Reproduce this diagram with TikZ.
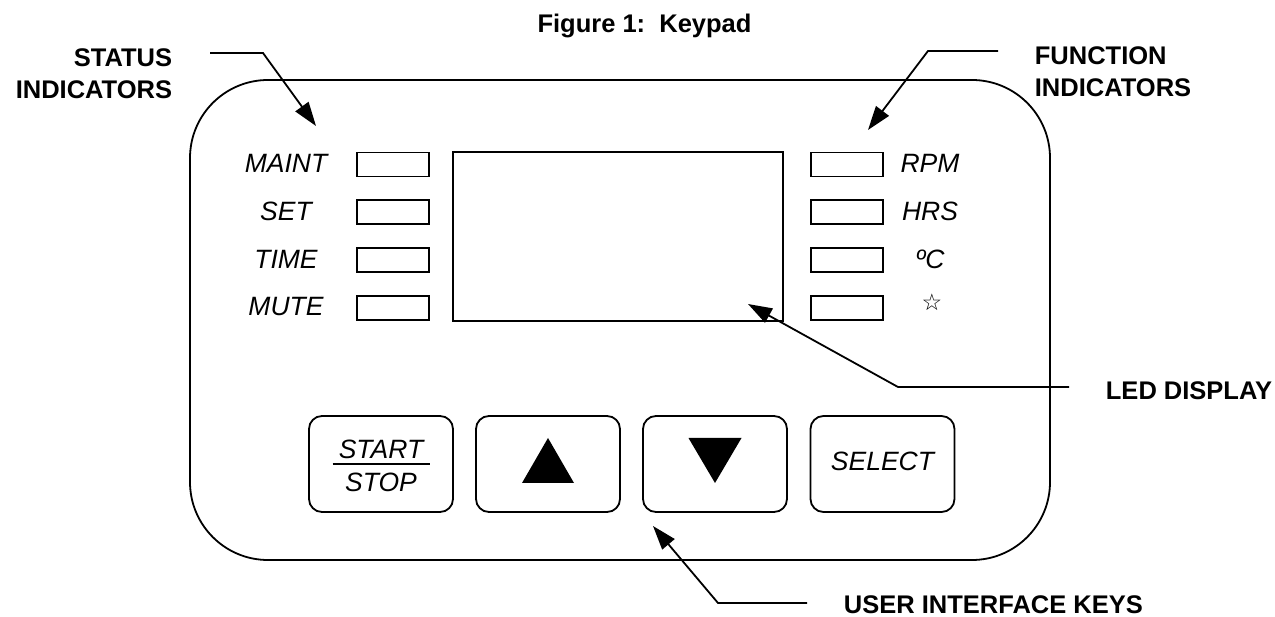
\documentclass[tikz,border=0pt]{standalone}
\usepackage{fontspec}
\setmainfont{Liberation Sans}
\newfontfamily\symfont{DejaVu Sans}
\usetikzlibrary{arrows.meta,positioning}
\tikzset{
    lampBox/.style={
        ,   draw
        ,   minimum width=72pt
        ,   minimum height=24pt
        ,   inner sep=0pt
    },
    keyBox/.style={
        ,   draw
        ,   rounded corners=13pt
        ,   minimum width=144pt
        ,   minimum height=96pt
        ,   inner sep=0pt
    },
    panelText/.style={
        ,   font=\fontsize{26.5}{30}\selectfont\itshape
        ,   inner sep=0pt
    },
    calloutText/.style={
        ,   font=\fontsize{25.5}{32}\selectfont\bfseries
        ,   inner sep=0pt
    },
    calloutLine/.style={
        ,   line width=1.8pt
        ,   -{Triangle[length=24pt,width=16pt]}
    }
}

\begin{document}
\begin{tikzpicture}[x=1pt, y=-1pt, line width=1.8pt]
	\useasboundingbox (0,0) rectangle (1275,617);
	\node[calloutText, anchor=base] (title) at (644.5,33) {Figure 1:~~Keypad};
	
	% housing and display
	\node[draw, rounded corners=78pt, minimum width=860pt, minimum height=480pt] (panel) at (620,320) {};
	\node[draw, minimum width=330pt, minimum height=169pt] (led) at (618,236.5) {};
	
	% status indicators, left
	\foreach \lbl [count=\i] in {MAINT,SET,TIME,MUTE}{
		\node[lampBox] (st\i) at (393,{164.5+47.8*(\i-1)}) {};
		\node[panelText, anchor=base] (stl\i) at (286,{172.5+47.8*(\i-1)}) {\lbl};
	}
	% function indicators, right
	\foreach \lbl [count=\i] in {RPM,HRS,ºC}{
		\node[lampBox] (fn\i) at (847,{164.5+47.8*(\i-1)}) {};
		\node[panelText, anchor=base] (fnl\i) at (930,{172.5+47.8*(\i-1)}) {\lbl};
	}
	\node[lampBox] (fn4) at (847,308) {};
	\node[inner sep=0pt, font=\symfont\fontsize{23}{23}\selectfont] (fnl4) at (932,302) {☆};
	
	% keys
	\node[keyBox] (kStart) at (381,464) {};
	\node[keyBox, right=21.2pt of kStart] (kUp) {};
	\node[keyBox, right=21.2pt of kUp] (kDown) {};
	\node[keyBox, right=21.7pt of kDown] (kSelect) {};
	
	\node[panelText, anchor=base] (startTxt) at (381,459) {START};
	\node[panelText, anchor=base] (stopTxt) at (381,491) {STOP};
	\draw[line width=1.5pt] ([xshift=-48.5pt]kStart.center) -- ([xshift=48.5pt]kStart.center);
	\fill[shift={(kUp.center)}] (0,-26) -- (26,19) -- (-26,19) -- cycle;
	\fill[shift={(kDown.center)}] (-26.5,-26) -- (26.5,-26) -- (0,19) -- cycle;
	\node[panelText, anchor=base] (selTxt) at (kSelect.center |- 0,471) {SELECT};
	
	% callouts
	\node[calloutText, align=right, anchor=east] (statusLbl) at (173,74) {STATUS\\INDICATORS};
	\coordinate (statusA) at (210,53);
	\coordinate (statusB) at (263,53);
	\coordinate (statusTip) at (316,126);
	\draw[calloutLine] (statusA) -- (statusB) -- (statusTip);
	
	\node[calloutText, align=left, anchor=west] (funcLbl) at (1034,72) {FUNCTION\\INDICATORS};
	\coordinate (funcA) at (998,51);
	\coordinate (funcB) at (928,51);
	\coordinate (funcTip) at (868,130);
	\draw[calloutLine] (funcA) -- (funcB) -- (funcTip);
	
	\node[calloutText, anchor=base west] (ledLbl) at (1105,400) {LED DISPLAY};
	\coordinate (ledA) at (1069,387);
	\coordinate (ledB) at (898,387);
	\coordinate (ledTip) at (748,304);
	\draw[calloutLine] (ledA) -- (ledB) -- (ledTip);
	
	\node[calloutText, anchor=base west] (keysLbl) at (843,613) {USER INTERFACE KEYS};
	\coordinate (keysA) at (807,603);
	\coordinate (keysB) at (718,603);
	\coordinate (keysTip) at (653,526);
	\draw[calloutLine] (keysA) -- (keysB) -- (keysTip);
\end{tikzpicture}
\end{document}
